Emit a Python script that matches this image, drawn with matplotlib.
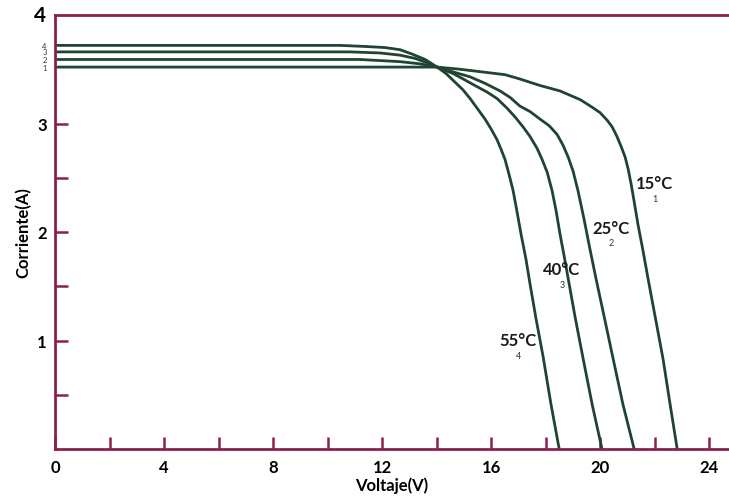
#!/usr/bin/env python3
"""
Curvas I-V de un panel solar a distintas temperaturas
"""

import matplotlib.pyplot as plt

# Datos (Voltaje en V, Corriente en A)
v_55 = [0, 10.46, 11.38, 12.11, 12.66, 13.10, 13.58, 14.02, 14.35, 14.68, 14.97, 15.23, 15.52, 15.78,
        16.00, 16.22, 16.37, 16.51, 16.66, 16.81, 16.95, 17.10, 17.28, 17.43, 17.65, 17.91, 18.20, 18.50]
i_55 = [3.72, 3.72, 3.71, 3.70, 3.68, 3.64, 3.59, 3.52, 3.46, 3.38, 3.31, 3.23, 3.13, 3.04,
        2.95, 2.85, 2.76, 2.67, 2.53, 2.38, 2.19, 1.98, 1.75, 1.52, 1.20, 0.85, 0.41, 0.0]

v_40 = [0, 10.83, 11.93, 12.66, 13.21, 13.65, 14.02, 14.61, 15.05, 15.41, 15.85, 16.22, 16.59, 16.88,
        17.17, 17.43, 17.69, 17.87, 18.06, 18.24, 18.39, 18.53, 18.68, 18.83, 19.08, 19.38, 19.71, 20.07]
i_40 = [3.66, 3.66, 3.65, 3.63, 3.60, 3.56, 3.52, 3.46, 3.40, 3.35, 3.29, 3.23, 3.14, 3.06,
        2.97, 2.88, 2.77, 2.67, 2.55, 2.38, 2.19, 1.98, 1.78, 1.57, 1.22, 0.83, 0.41, 0.0]

v_25 = [0, 11.19, 12.66, 13.39, 14.02, 14.68, 15.23, 15.78, 16.33, 16.70, 17.06, 17.43, 17.80, 18.13,
        18.42, 18.64, 18.83, 19.01, 19.19, 19.41, 19.63, 19.85, 20.15, 20.48, 20.84, 21.25]
i_25 = [3.59, 3.59, 3.57, 3.55, 3.52, 3.47, 3.43, 3.37, 3.30, 3.24, 3.16, 3.11, 3.04, 2.98,
        2.90, 2.80, 2.69, 2.56, 2.38, 2.12, 1.84, 1.57, 1.22, 0.83, 0.41, 0.0]

v_15 = [0, 14.02, 14.86, 15.85, 16.51, 17.06, 17.80, 18.53, 19.27, 19.71, 20.00, 20.26, 20.44, 20.62,
        20.77, 20.92, 21.03, 21.14, 21.25, 21.39, 21.58, 21.76, 22.02, 22.31, 22.57, 22.83]
i_15 = [3.52, 3.52, 3.50, 3.47, 3.45, 3.41, 3.35, 3.30, 3.22, 3.15, 3.10, 3.03, 2.97, 2.88,
        2.79, 2.69, 2.58, 2.44, 2.28, 2.07, 1.82, 1.57, 1.22, 0.83, 0.41, 0.0]

curve_tags = ['4', '3', '2', '1']
temp_labels = ['55°C', '40°C', '25°C', '15°C']
label_pos = [(17.0, 1.0), (18.6, 1.66), (20.4, 2.04), (22.0, 2.45)]

x_ticks = list(range(0, 25, 2))
x_labels = [str(t) if t % 4 == 0 else '' for t in x_ticks]
y_ticks = [0.5, 1, 1.5, 2, 2.5, 3]
y_labels = ['', '1', '', '2', '', '3']

AXIS_COLOR = '#8c1f4e'
LINE_COLOR = '#1f4431'
FONT = 'Lato'

fig = plt.figure(figsize=(7.29, 5.02), dpi=100)
ax = fig.add_axes([55 / 729, 52 / 502, 1 - 55 / 729, 434 / 502])

curves = [(v_55, i_55), (v_40, i_40), (v_25, i_25), (v_15, i_15)]
for (v, i) in curves:
    ax.plot(v, i, color=LINE_COLOR, linewidth=2.0, solid_joinstyle='round', solid_capstyle='round')

ax.set_xlim(0, 24.73)
ax.set_ylim(0, 4)

# Spines
for side in ['left', 'bottom', 'top']:
    ax.spines[side].set_color(AXIS_COLOR)
    ax.spines[side].set_linewidth(2.0)
ax.spines['right'].set_visible(False)

# Ticks
ax.set_xticks(x_ticks)
ax.set_xticklabels(x_labels, fontfamily=FONT, fontweight='bold', fontsize=12)
ax.set_yticks(y_ticks)
ax.set_yticklabels(y_labels, fontfamily=FONT, fontweight='bold', fontsize=12)
ax.tick_params(axis='both', direction='in', length=9, width=1.8, color=AXIS_COLOR)
ax.tick_params(axis='x', pad=7)
ax.tick_params(axis='y', pad=6)

# Label "4" at top of y axis (larger)
ax.text(-0.33, 4.0, '4', ha='right', va='center', fontfamily=FONT, fontweight='bold', fontsize=15)

# Small curve numbers at the left of the axis
for (v, i), tag in zip(curves, curve_tags):
    ax.text(-0.3, i[0], tag, ha='right', va='center', fontfamily=FONT, fontsize=5.5, color='#333333')

# Temperature labels with subscripts
for (x, y), t, tag in zip(label_pos, temp_labels, curve_tags):
    ax.text(x, y, t, ha='center', va='center', fontfamily=FONT, fontweight='bold', fontsize=12, color='#1a1a1a')
    ax.text(x, y - 0.14, tag, ha='center', va='center', fontfamily=FONT, fontsize=6.5, color='#333333')

ax.set_xlabel('Voltaje(V)', fontfamily=FONT, fontweight='bold', fontsize=12, labelpad=1)
ax.set_ylabel('Corriente(A)', fontfamily=FONT, fontweight='bold', fontsize=12, labelpad=4)

plt.savefig('out.png', dpi=100)
plt.close()
